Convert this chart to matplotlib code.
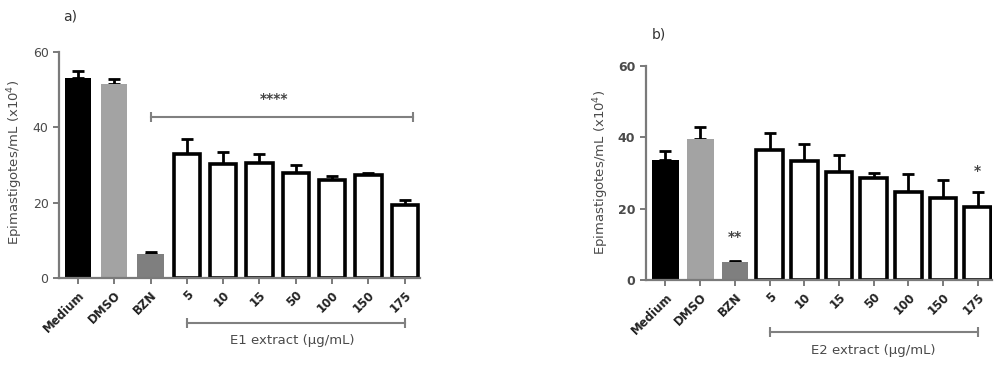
import matplotlib.pyplot as plt
import numpy as np

# Data
groups = ["Medium", "DMSO", "BZN", "5", "10", "15", "50", "100", "150", "175"]

e1_means = [53.0, 51.4, 6.5, 32.9, 30.2, 30.5, 28.0, 26.0, 27.4, 19.3]
e1_err = [2.0, 1.5, 0.3, 4.0, 3.2, 2.4, 2.1, 1.1, 0.4, 1.4]

e2_means = [33.6, 39.4, 4.9, 36.4, 33.2, 30.3, 28.5, 24.6, 23.0, 20.5]
e2_err = [2.5, 3.4, 0.5, 4.7, 4.9, 4.7, 1.5, 5.1, 5.0, 4.2]

fills = ["black", "#a3a3a3", "#7f7f7f"] + ["white"] * 7
edges = ["black", "#a3a3a3", "#7f7f7f"] + ["black"] * 7
lws = [0, 0, 0] + [2.6] * 7

axis_col = "#7a7a7a"
text_col = "#4a4a4a"

fig = plt.figure(figsize=(10, 3.66), dpi=100)
ax1 = fig.add_axes([0.059, 0.2404, 0.361, 0.6175])
ax2 = fig.add_axes([0.6457, 0.235, 0.3463, 0.5855])


def draw_panel(ax, means, err, width, xlim, bold_y):
    x = np.arange(len(groups))
    ax.bar(x, means, width=width, color=fills, edgecolor=edges, linewidth=lws, zorder=2)
    ax.errorbar(x, means, yerr=[np.zeros(len(err)), err], fmt="none", ecolor="black",
                elinewidth=2, capsize=4, capthick=2, zorder=1)
    ax.set_xlim(*xlim)
    ax.set_ylim(0, 60)
    ax.set_yticks([0, 20, 40, 60])
    ax.set_xticks(x)
    ax.set_xticklabels(groups, rotation=45, ha="right", rotation_mode="anchor",
                       fontsize=8.5, fontweight="bold", color="#222222")
    for s in ["top", "right"]:
        ax.spines[s].set_visible(False)
    for s in ["left", "bottom"]:
        ax.spines[s].set_color(axis_col)
        ax.spines[s].set_linewidth(1.6)
    ax.tick_params(axis="both", color=axis_col, width=1.4, length=4)
    ax.tick_params(axis="y", labelsize=9, labelcolor=text_col)
    if bold_y:
        for t in ax.get_yticklabels():
            t.set_fontweight("bold")
    ax.set_ylabel("Epimastigotes/mL (x10$^4$)", fontsize=9.5, color=text_col)


draw_panel(ax1, e1_means, e1_err, 0.72, (-0.52, 9.42), False)
draw_panel(ax2, e2_means, e2_err, 0.77, (-0.57, 9.41), True)
ax1.yaxis.set_label_coords(-0.094, 0.51)
ax2.yaxis.set_label_coords(-0.10, 0.50)

line_col = "#808080"

# panel a: significance bar over BZN + extracts
ax1.plot([2, 9.23], [42.8, 42.8], color=line_col, lw=1.5, marker="|", ms=7, mew=1.5)
ax1.text(5.4, 47.5, "****", ha="center", va="center", fontsize=10, fontweight="bold",
         color="#444444")

# bracket lines under the concentration labels
tr1 = ax1.get_xaxis_transform()
ax1.plot([3, 9], [-0.199, -0.199], transform=tr1, clip_on=False, color=line_col,
         lw=1.5, marker="|", ms=7, mew=1.5)
ax1.text(5.9, -0.275, "E1 extract (µg/mL)", transform=tr1, ha="center", va="center",
         fontsize=9.5, color=text_col)

tr2 = ax2.get_xaxis_transform()
ax2.plot([3, 9], [-0.241, -0.241], transform=tr2, clip_on=False, color=line_col,
         lw=1.5, marker="|", ms=7, mew=1.5)
ax2.text(6.0, -0.33, "E2 extract (µg/mL)", transform=tr2, ha="center", va="center",
         fontsize=9.5, color=text_col)

# panel b significance stars
ax2.text(2, 12.0, "**", ha="center", va="center", fontsize=10, fontweight="bold",
         color="#444444")
ax2.text(9, 30.5, "*", ha="center", va="center", fontsize=10, fontweight="bold",
         color="#444444")

fig.text(0.063, 0.955, "a)", fontsize=10, color="#333333", va="center")
fig.text(0.652, 0.905, "b)", fontsize=10, color="#333333", va="center")

fig.savefig("out.png", dpi=100)
